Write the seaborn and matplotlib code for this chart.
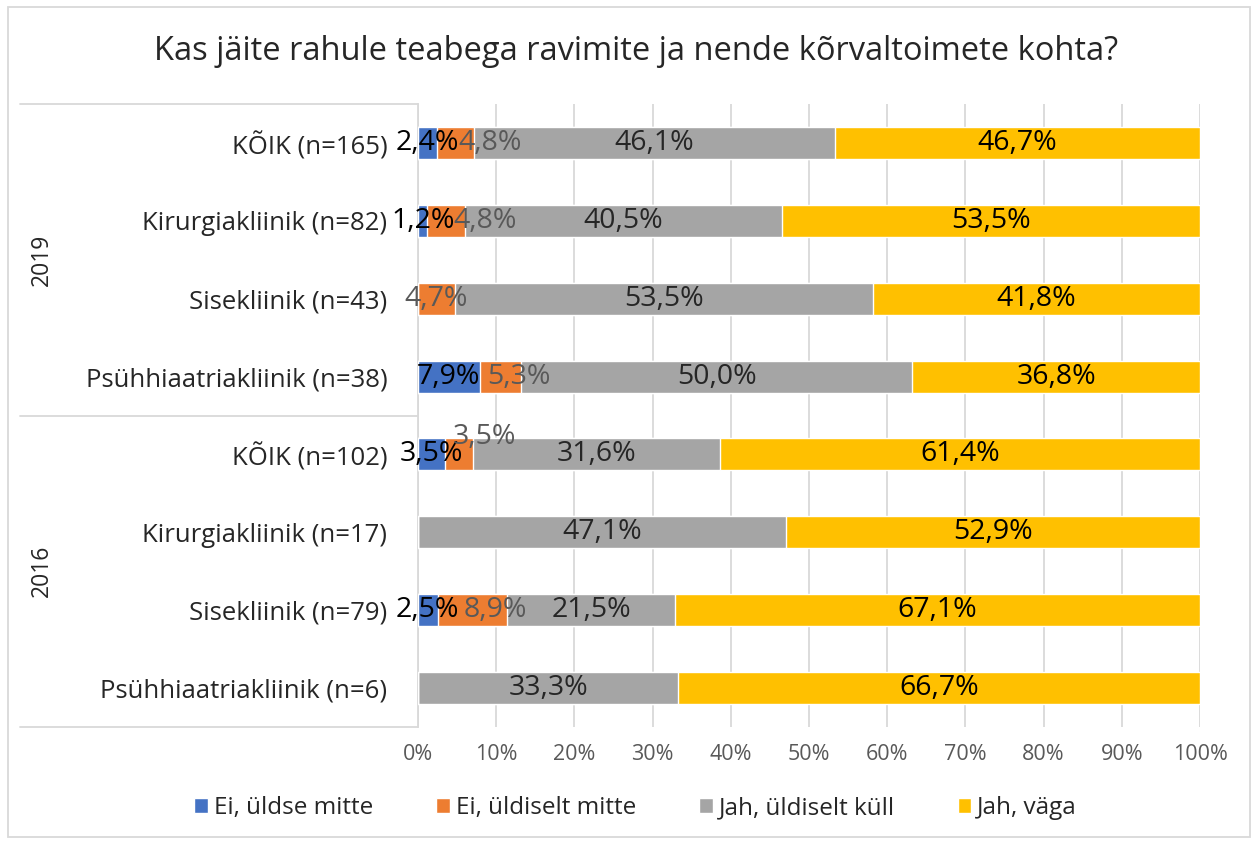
import numpy as np
import pandas as pd
import matplotlib
matplotlib.use('Agg')
import matplotlib.pyplot as plt
import seaborn as sns
from matplotlib.patches import Rectangle
from matplotlib.transforms import blended_transform_factory

sns.set_theme(style='white')
plt.rcParams['font.family'] = ['Open Sans', 'DejaVu Sans']

# data, top row first
categories = [
    "KÕIK (n=165)",
    "Kirurgiakliinik (n=82)",
    "Sisekliinik (n=43)",
    "Psühhiaatriakliinik (n=38)",
    "KÕIK (n=102)",
    "Kirurgiakliinik (n=17)",
    "Sisekliinik (n=79)",
    "Psühhiaatriakliinik (n=6)",
]
years = ["2019", "2016"]
series_names = ["Ei, üldse mitte", "Ei, üldiselt mitte", "Jah, üldiselt küll", "Jah, väga"]
ei_uldse = [2.4, 1.2, 0.0, 7.9, 3.5, 0.0, 2.5, 0.0]
ei_uldiselt = [4.8, 4.8, 4.7, 5.3, 3.5, 0.0, 8.9, 0.0]
jah_uldiselt = [46.1, 40.5, 53.5, 50.0, 31.6, 47.1, 21.5, 33.3]
jah_vaga = [46.7, 53.5, 41.8, 36.8, 61.4, 52.9, 67.1, 66.7]

colors = ["#4472C4", "#ED7D31", "#A5A5A5", "#FFC000"]
label_colors = ["#000000", "#595959", "#262626", "#000000"]
# Excel moved some small orange labels aside to avoid overlap
orange_dx = [4.4, 5.0, 0, 2.3, 3.2, 0, 2.9, 0]
orange_dy = [0, 0, 0, 0, -0.23, 0, 0, 0]

df = pd.DataFrame({
    "kategooria": categories,
    series_names[0]: ei_uldse,
    series_names[1]: ei_uldiselt,
    series_names[2]: jah_uldiselt,
    series_names[3]: jah_vaga,
})
cum = df[series_names].cumsum(axis=1)

fig = plt.figure(figsize=(12.59, 8.43), dpi=100)
ax = fig.add_axes([418 / 1259, 1 - 727 / 843, 782 / 1259, 623 / 843])

# overlay cumulative bars, widest first
for i in range(3, -1, -1):
    sns.barplot(x=cum[series_names[i]], y=df["kategooria"], order=categories,
                color=colors[i], saturation=1, width=0.41, orient='h',
                ax=ax, label=series_names[i], zorder=3)

ax.set_xlim(0, 100)
ax.set_ylim(7.5, -0.5)
ax.set_xticks(np.arange(0, 101, 10))
ax.set_xticklabels([f"{t}%" for t in range(0, 101, 10)], color="#595959", fontsize=15.5)
ax.tick_params(axis='x', length=0, pad=12)
ax.tick_params(axis='y', length=0, pad=22, labelsize=18.5, labelcolor="#262626")
ax.set_xlabel("")
ax.set_ylabel("")
ax.grid(axis='x', color="#D9D9D9", linewidth=1.3, zorder=0)
ax.grid(axis='y', visible=False)
for s in ["top", "right", "bottom"]:
    ax.spines[s].set_visible(False)
ax.spines["left"].set_color("#D9D9D9")
ax.spines["left"].set_linewidth(1.3)

# data labels
for r in range(len(categories)):
    left = 0
    for i, name in enumerate(series_names):
        v = df[name][r]
        if v > 0:
            cx = left + v / 2
            cy = r
            if i == 1:
                cx += orange_dx[r]
                cy += orange_dy[r]
            ax.text(cx, cy, f"{v:.1f}".replace('.', ',') + "%", ha='center', va='center',
                    fontsize=20.5, color=label_colors[i], zorder=5)
        left += v

# year groups on the left
tr = blended_transform_factory(ax.transAxes, ax.transData)
for yy in [-0.5, 3.5, 7.5]:
    ax.plot([-398 / 782, 0], [yy, yy], transform=tr, color="#D9D9D9",
            linewidth=1.3, clip_on=False)
for g, year in enumerate(years):
    ax.text(-376 / 782, 1.5 + 4 * g, year, transform=tr, rotation=90,
            ha='center', va='center', fontsize=16.5, color="#262626")

fig.suptitle("Kas jäite rahule teabega ravimite ja nende kõrvaltoimete kohta?",
             x=0.505, y=1 - 52 / 843, va='center', fontsize=23.5, color="#262626")

handles, labels = ax.get_legend_handles_labels()
order = [labels.index(n) for n in series_names]
fig.legend([handles[k] for k in order], [labels[k] for k in order],
           loc='center', bbox_to_anchor=(0.505, 1 - 808 / 843), ncol=4,
           frameon=False, fontsize=17.5, handlelength=0.55, handleheight=0.55,
           handletextpad=0.25, columnspacing=2.6, labelcolor="#262626")
if ax.get_legend():
    ax.get_legend().remove()

fig.patches.append(Rectangle((8 / 1259, 6 / 843), 1242 / 1259, 830 / 843,
                             transform=fig.transFigure, fill=False,
                             edgecolor="#D9D9D9", linewidth=1.3))

fig.savefig("out.png", dpi=100)
